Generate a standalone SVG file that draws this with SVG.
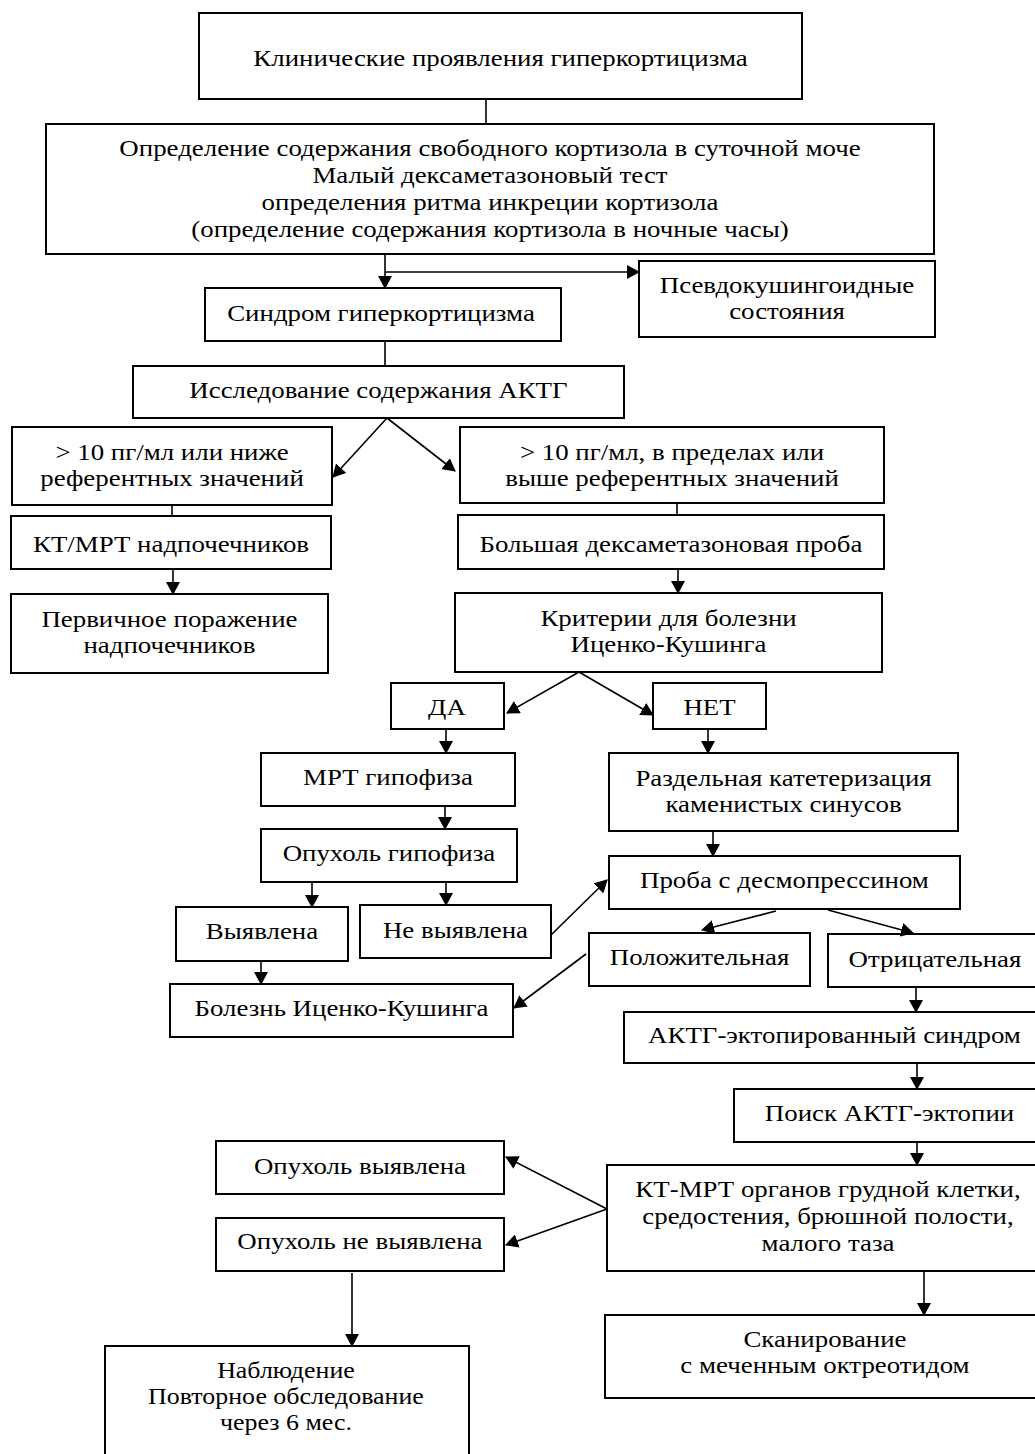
<svg xmlns="http://www.w3.org/2000/svg" width="1035" height="1454" viewBox="0 0 1035 1454">
<style>
.b{fill:#fff;stroke:#000;stroke-width:2}
.t{font-family:"Liberation Serif","Times New Roman",serif;font-size:24px;fill:#000;text-anchor:middle;transform:scale(1.12,1);transform-origin:0 0}
.s{transform:scale(1.08,1)}
.c{stroke:#000;stroke-width:1.6;fill:none}
.a{marker-end:url(#ah)}
</style>
<defs>
<marker id="ah" markerUnits="userSpaceOnUse" markerWidth="13" markerHeight="14" refX="12" refY="7" orient="auto">
<path d="M0,0 L13,7 L0,14 z" fill="#000"/>
</marker>
</defs>
<rect width="1035" height="1454" fill="#fff"/>
<g id="n1"><rect class="b" x="199" y="13" width="603" height="86"/><text class="t" x="446.9" y="66">Клинические проявления гиперкортицизма</text></g>
<g id="n2"><rect class="b" x="46" y="124" width="888" height="130"/>
<text class="t" x="437.5" y="156">Определение содержания свободного кортизола в суточной моче</text>
<text class="t" x="437.5" y="183">Малый дексаметазоновый тест</text>
<text class="t" x="437.5" y="210">определения ритма инкреции кортизола</text>
<text class="t" x="437.5" y="237">(определение содержания кортизола в ночные часы)</text></g>
<g id="n3"><rect class="b" x="205" y="288" width="356" height="53"/><text class="t" x="340.2" y="321">Синдром гиперкортицизма</text></g>
<g id="n4"><rect class="b" x="639" y="261" width="296" height="76"/><text class="t" x="702.7" y="293">Псевдокушингоидные</text><text class="t" x="702.7" y="319">состояния</text></g>
<g id="n5"><rect class="b" x="133" y="366" width="491" height="52"/><text class="t" x="337.9" y="398">Исследование содержания АКТГ</text></g>
<g id="n6"><rect class="b" x="12" y="427" width="320" height="78"/><text class="t" x="153.6" y="460">&gt; 10 пг/мл или ниже</text><text class="t" x="153.6" y="486">референтных значений</text></g>
<g id="n7"><rect class="b" x="460" y="427" width="424" height="76"/><text class="t" x="600" y="460">&gt; 10 пг/мл, в пределах или</text><text class="t" x="600" y="486">выше референтных значений</text></g>
<g id="n8"><rect class="b" x="11" y="516" width="320" height="53"/><text class="t" x="152.7" y="552">КТ/МРТ надпочечников</text></g>
<g id="n9"><rect class="b" x="11" y="594" width="317" height="79"/><text class="t" x="151.3" y="627">Первичное поражение</text><text class="t" x="151.3" y="653">надпочечников</text></g>
<g id="n10"><rect class="b" x="458" y="515" width="426" height="54"/><text class="t" x="599.1" y="552">Большая дексаметазоновая проба</text></g>
<g id="n11"><rect class="b" x="455" y="593" width="427" height="79"/><text class="t" x="596.9" y="626">Критерии для болезни</text><text class="t" x="596.9" y="652">Иценко-Кушинга</text></g>
<g id="n12"><rect class="b" x="391" y="683" width="113" height="46"/><text class="t" x="399.1" y="715">ДА</text></g>
<g id="n13"><rect class="b" x="653" y="683" width="113" height="46"/><text class="t" x="633.5" y="715">НЕТ</text></g>
<g id="n14"><rect class="b" x="261" y="753" width="254" height="53"/><text class="t" x="346.4" y="785">МРТ гипофиза</text></g>
<g id="n15"><rect class="b" x="261" y="829" width="256" height="53"/><text class="t" x="347.3" y="861">Опухоль гипофиза</text></g>
<g id="n16"><rect class="b" x="176" y="907" width="172" height="54"/><text class="t" x="233.9" y="939">Выявлена</text></g>
<g id="n17"><rect class="b" x="360" y="905" width="191" height="53"/><text class="t" x="406.7" y="938">Не выявлена</text></g>
<g id="n18"><rect class="b" x="170" y="984" width="343" height="53"/><text class="t" x="304.9" y="1016">Болезнь Иценко-Кушинга</text></g>
<g id="n19"><rect class="b" x="609" y="753" width="349" height="78"/><text class="t" x="699.6" y="786">Раздельная катетеризация</text><text class="t" x="699.6" y="812">каменистых синусов</text></g>
<g id="n20"><rect class="b" x="609" y="856" width="351" height="53"/><text class="t" x="700.4" y="888">Проба с десмопрессином</text></g>
<g id="n21"><rect class="b" x="589" y="933" width="221" height="53"/><text class="t" x="624.6" y="965">Положительная</text></g>
<g id="n22"><rect class="b" x="828" y="934" width="220" height="53"/><text class="t" x="834.8" y="967">Отрицательная</text></g>
<g id="n23"><rect class="b" x="624" y="1012" width="425" height="51"/><text class="t" x="745.1" y="1043">АКТГ-эктопированный синдром</text></g>
<g id="n24"><rect class="b" x="734" y="1089" width="315" height="53"/><text class="t" x="794.2" y="1121">Поиск АКТГ-эктопии</text></g>
<g id="n25"><rect class="b" x="607" y="1165" width="445" height="106"/><text class="t" x="739.3" y="1197">КТ-МРТ органов грудной клетки,</text><text class="t" x="739.3" y="1224">средостения, брюшной полости,</text><text class="t" x="739.3" y="1251">малого таза</text></g>
<g id="n26"><rect class="b" x="216" y="1141" width="288" height="53"/><text class="t" x="321.4" y="1174">Опухоль выявлена</text></g>
<g id="n27"><rect class="b" x="216" y="1218" width="288" height="53"/><text class="t" x="321.4" y="1249">Опухоль не выявлена</text></g>
<g id="n28"><rect class="b" x="105" y="1346" width="364" height="120"/><text class="t s" x="264.8" y="1378">Наблюдение</text><text class="t s" x="264.8" y="1404">Повторное обследование</text><text class="t s" x="264.8" y="1430">через 6 мес.</text></g>
<g id="n29"><rect class="b" x="605" y="1315" width="445" height="83"/><text class="t" x="736.6" y="1347">Сканирование</text><text class="t" x="736.6" y="1373">с меченным октреотидом</text></g>
<g id="connectors">
<line class="c" x1="486" y1="99" x2="486" y2="124"/>
<line class="c a" x1="385" y1="254" x2="385" y2="288"/>
<line class="c a" x1="385" y1="272" x2="639" y2="272"/>
<line class="c" x1="385" y1="341" x2="385" y2="366"/>
<line class="c a" x1="387" y1="418" x2="333" y2="477"/>
<line class="c a" x1="387" y1="418" x2="455" y2="471"/>
<line class="c" x1="172" y1="505" x2="172" y2="516"/>
<line class="c a" x1="173" y1="569" x2="173" y2="594"/>
<line class="c" x1="677" y1="503" x2="677" y2="515"/>
<line class="c a" x1="678" y1="569" x2="678" y2="593"/>
<line class="c a" x1="579" y1="672" x2="507" y2="713"/>
<line class="c a" x1="579" y1="672" x2="653" y2="715"/>
<line class="c a" x1="446" y1="729" x2="446" y2="753"/>
<line class="c a" x1="445" y1="806" x2="445" y2="829"/>
<line class="c a" x1="312" y1="882" x2="312" y2="907"/>
<line class="c a" x1="446" y1="882" x2="446" y2="905"/>
<line class="c a" x1="261" y1="961" x2="261" y2="984"/>
<line class="c a" x1="708" y1="729" x2="708" y2="753"/>
<line class="c a" x1="713" y1="831" x2="713" y2="856"/>
<line class="c a" x1="551" y1="935" x2="607" y2="880"/>
<line class="c a" x1="776" y1="911" x2="702" y2="930"/>
<line class="c a" x1="828" y1="910" x2="913" y2="933"/>
<line class="c a" x1="586" y1="954" x2="514" y2="1008"/>
<line class="c a" x1="916" y1="987" x2="916" y2="1012"/>
<line class="c a" x1="917" y1="1063" x2="917" y2="1089"/>
<line class="c a" x1="917" y1="1142" x2="917" y2="1165"/>
<line class="c a" x1="607" y1="1209" x2="506" y2="1157"/>
<line class="c a" x1="607" y1="1209" x2="506" y2="1245"/>
<line class="c a" x1="352" y1="1273" x2="352" y2="1346"/>
<line class="c a" x1="924" y1="1271" x2="924" y2="1315"/>
</g>
</svg>
